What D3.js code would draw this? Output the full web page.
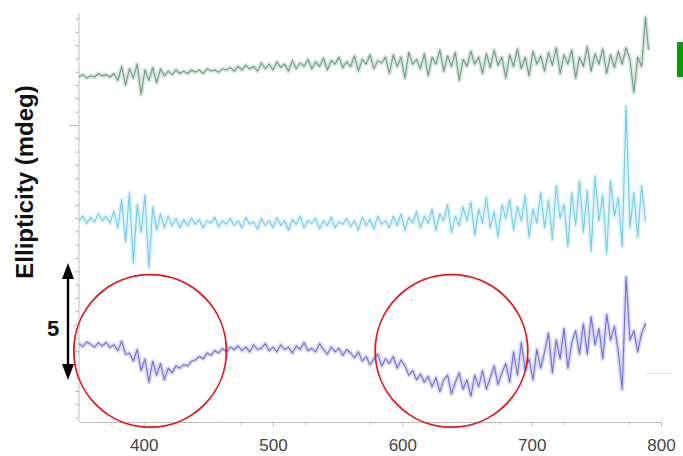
<!DOCTYPE html>
<html><head><meta charset="utf-8">
<script src="https://cdn.jsdelivr.net/npm/d3@7"></script>
<style>html,body{margin:0;padding:0;background:#fff;}svg{display:block;}</style>
</head><body>
<svg id="chart" width="683" height="456"></svg>
<script>
// ---- data (ellipticity, mdeg; traces stacked as in the figure) ----
const wlStart = 350, wlEnd = 800, wlStep = 3;
const wavelengths = d3.range(wlStart, wlEnd + 1, wlStep);
const xTickValues = [400, 500, 600, 700, 800];
const scaleBarValue = 5;
const circleCenters = [405, 638];   // nm, marked regions

const blueSeries = [
 0.05,-0.08,0.12,0.02,-0.1,0.08,-0.05,0.1,-0.12,0.0,
 -0.25,0.15,-0.4,-0.35,-0.7,-0.2,-1.1,-0.6,-1.6,-0.7,
 -1.3,-0.8,-1.5,-1.0,-1.2,-0.9,-1.0,-0.85,-0.9,-0.7,
 -0.65,-0.5,-0.6,-0.35,-0.45,-0.25,-0.35,-0.15,-0.3,-0.1,
 -0.2,-0.05,-0.25,-0.1,-0.3,0.0,-0.2,-0.15,0.05,-0.25,
 -0.1,-0.3,0.0,-0.2,-0.1,-0.35,-0.05,-0.2,0.1,-0.25,
 -0.15,-0.3,0.05,-0.2,-0.4,-0.1,-0.3,-0.15,-0.45,-0.2,
 -0.35,-0.55,-0.3,-0.7,-0.5,-0.85,-0.6,-0.4,-0.9,-0.6,
 -0.8,-0.5,-1.0,-0.65,-0.9,-1.3,-1.1,-1.5,-1.25,-1.6,
 -1.35,-1.8,-1.4,-2.0,-1.5,-1.3,-2.1,-1.6,-1.2,-1.9,
 -1.5,-2.2,-1.3,-1.8,-1.1,-1.9,-1.4,-0.9,-1.7,-1.2,
 -0.8,-1.6,-0.3,-1.3,0.1,-1.1,-0.6,-1.5,-0.2,-1.0,
 -0.3,0.5,-1.2,0.2,-0.6,0.7,-1.0,0.1,0.6,-0.4,
 0.9,-0.4,1.2,0.0,0.7,-0.6,1.3,0.2,0.8,-0.3,
 -1.9,2.9,0.2,0.6,-0.3,0.5,0.9,0.3,0.6,0.4,0.5
];
const cyanSeries = [
 5.3,5.5,5.2,5.45,5.25,5.6,5.3,5.5,5.2,5.7,
 5.0,6.2,4.4,6.5,3.5,6.0,4.8,6.4,3.3,5.9,
 4.9,5.6,5.0,5.5,5.1,5.4,5.0,5.35,5.1,5.4,
 5.15,5.35,5.0,5.3,5.2,5.45,5.05,5.3,5.15,5.4,
 5.1,5.3,5.0,5.45,5.15,5.25,4.95,5.4,5.1,5.3,
 5.0,5.45,5.1,5.3,4.9,5.35,5.15,5.5,5.0,5.3,
 5.2,5.4,4.95,5.3,5.1,5.45,5.0,5.25,5.15,5.4,
 5.05,5.3,4.9,5.45,5.1,5.35,4.95,5.5,5.15,5.3,
 5.0,5.5,5.1,5.6,4.9,5.45,5.2,5.7,5.0,5.5,
 5.2,5.8,4.9,5.6,5.3,6.0,4.8,5.5,5.1,5.9,
 5.3,6.1,4.7,5.8,5.2,6.3,5.0,5.7,4.6,6.0,
 5.4,6.2,4.9,5.9,5.3,6.4,4.6,5.8,5.2,6.5,
 5.0,6.2,4.5,6.8,5.4,6.0,4.2,6.5,5.1,7.0,
 4.8,6.6,4.0,7.2,5.3,6.4,3.9,7.0,5.5,6.3,
 4.2,10.2,5.0,6.5,4.6,6.8,5.3,6.0,5.5,6.2,5.8
];
const greenSeries = [
 11.45,11.55,11.4,11.5,11.45,11.6,11.5,11.55,11.45,11.6,
 11.3,11.9,11.1,11.8,11.4,12.0,10.7,11.75,11.3,11.85,
 11.2,11.8,11.5,11.7,11.55,11.75,11.6,11.7,11.6,11.75,
 11.65,11.75,11.6,11.8,11.7,11.75,11.65,11.8,11.75,11.85,
 11.7,11.9,11.75,11.95,11.8,11.9,11.7,12.05,11.8,12.0,
 11.75,12.1,11.85,12.0,11.7,12.15,11.8,12.05,11.9,12.2,
 11.8,12.1,11.9,12.25,11.75,12.15,12.0,12.3,11.85,12.1,
 11.9,12.35,11.7,12.2,12.0,12.4,11.8,12.15,12.05,12.3,
 11.6,12.4,11.9,12.3,11.4,12.5,12.0,12.2,11.8,12.45,
 11.5,12.3,12.0,12.6,11.7,12.35,11.9,12.5,11.3,12.2,
 11.9,12.55,12.0,12.3,11.6,12.45,11.85,12.6,11.95,12.3,
 11.4,12.4,11.9,12.65,11.8,12.3,11.5,12.55,12.0,12.35,
 11.7,12.5,11.95,12.7,11.6,12.4,12.0,12.6,11.4,12.3,
 11.9,12.75,11.7,12.45,12.0,12.65,11.6,12.4,11.85,12.55,
 12.0,12.7,12.2,10.8,12.3,11.9,14.0,12.2,11.9,12.4,12.1
];

// ---- layout ----
const svg = d3.select("#chart");
const x = d3.scaleLinear().domain([wlStart, wlEnd]).range([79, 661]);
const y = d3.scaleLinear().domain([-3.3, 14.1]).range([422, 15]);

svg.append("rect").attr("width", 683).attr("height", 456).attr("fill", "#fff");

// y axis (unlabelled, minor ticks)
const yStep = 0.5686;
const yTicks = d3.range(9.4 - 22 * yStep, 14.1, yStep).filter(v => v > -3.3 + 0.1);
const yAxis = svg.append("g").attr("transform", "translate(79,0)")
  .call(d3.axisLeft(y).tickValues(yTicks).tickSize(3).tickFormat(""));
yAxis.select(".domain").attr("stroke", "#bdbdbd").attr("d", "M0,13V422");
yAxis.selectAll(".tick line").attr("stroke", "#b8b8b8")
  .attr("x2", d => Math.abs(d - 9.4) < 0.01 ? -10 : -4);

// x axis
const minor = d3.range(375, 800, 50);
svg.append("g").attr("transform", "translate(0,422)")
  .call(d3.axisBottom(x).tickValues(minor).tickSize(3).tickFormat(""))
  .call(g => g.select(".domain").remove())
  .selectAll(".tick line").attr("stroke", "#c0c0c0");
const xAxis = svg.append("g").attr("transform", "translate(0,422)")
  .call(d3.axisBottom(x).tickValues(xTickValues).tickSize(4).tickSizeOuter(0));
xAxis.select(".domain").attr("stroke", "#bdbdbd");
xAxis.selectAll(".tick line").attr("stroke", "#b5b5b5");
xAxis.selectAll(".tick text").attr("y", 17).attr("dy", "0.71em")
  .attr("fill", "#444").style("font-family", "'Liberation Sans', Arial, sans-serif")
  .style("font-size", "17px");

// traces
const line = d3.line().x((d, i) => x(wavelengths[i])).y(d => y(d));
const traces = [
  {data: greenSeries, color: "#5f8b6d", halo: "#b4d2bd"},
  {data: cyanSeries, color: "#62c4e0", halo: "#bfeaf6"},
  {data: blueSeries, color: "#5c5cce", halo: "#b8b8ee"}
];
traces.forEach(t => {
  svg.append("path").datum(t.data).attr("d", line).attr("fill", "none")
    .attr("stroke", t.halo).attr("stroke-width", 4.5).attr("stroke-opacity", 0.5)
    .attr("stroke-linejoin", "round");
  svg.append("path").datum(t.data).attr("d", line).attr("fill", "none")
    .attr("stroke", t.color).attr("stroke-width", 1.1).attr("stroke-opacity", 0.85)
    .attr("stroke-linejoin", "round");
});

// white cover box (cropped legend area) and green legend mark
svg.append("rect").attr("x", 646).attr("y", 50).attr("width", 37).attr("height", 323).attr("fill", "#fff");
svg.append("line").attr("x1", 646).attr("x2", 672).attr("y1", 373.5).attr("y2", 373.5)
  .attr("stroke", "#e2e2e2").attr("stroke-width", 1);
svg.append("rect").attr("x", 677).attr("y", 42).attr("width", 6).attr("height", 35).attr("fill", "#0c9a0c");

// red circles
const r = x(wlStart + 59) - x(wlStart);
svg.selectAll("circle.mark").data(circleCenters).enter().append("circle")
  .attr("cx", d => x(d)).attr("cy", y(-0.26)).attr("r", r)
  .attr("fill", "none").attr("stroke", "#e5161b").attr("stroke-width", 1.8);

// scale bar arrow (5 mdeg)
const yTop = y(3.5), yBot = y(3.5 - scaleBarValue), ax = 68;
svg.append("line").attr("x1", ax).attr("x2", ax).attr("y1", yTop + 12).attr("y2", yBot - 12)
  .attr("stroke", "#000").attr("stroke-width", 2.4);
svg.append("path").attr("d", `M${ax},${yTop}L${ax - 6},${yTop + 16}L${ax + 6},${yTop + 16}Z`).attr("fill", "#000");
svg.append("path").attr("d", `M${ax},${yBot}L${ax - 6},${yBot - 16}L${ax + 6},${yBot - 16}Z`).attr("fill", "#000");
svg.append("text").attr("x", 53).attr("y", 336).attr("text-anchor", "middle")
  .style("font-family", "'Liberation Sans', Arial, sans-serif").style("font-weight", "bold")
  .style("font-size", "22px").attr("fill", "#111").text(String(scaleBarValue));

// y label
svg.append("text").attr("transform", "translate(33,182) rotate(-90)").attr("text-anchor", "middle")
  .style("font-family", "'Liberation Sans', Arial, sans-serif").style("font-weight", "bold")
  .style("font-size", "24px").attr("fill", "#111").text("Ellipticity (mdeg)");
</script>
</body></html>
